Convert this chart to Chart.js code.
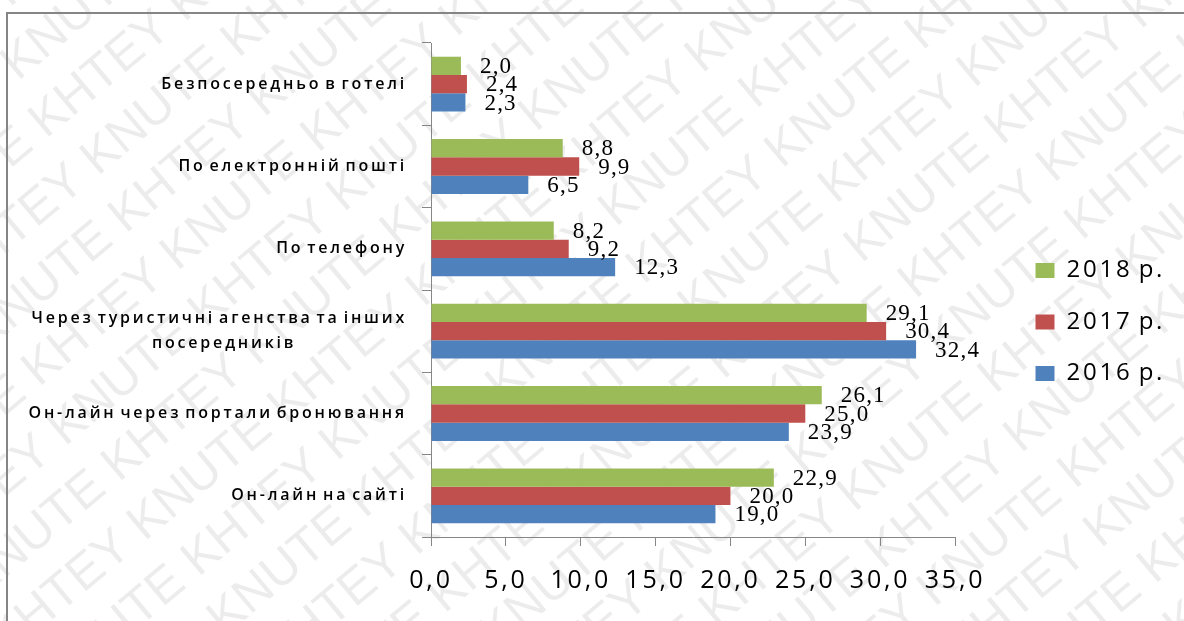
<!DOCTYPE html>
<html lang="uk">
<head>
<meta charset="utf-8">
<title>Способи бронювання</title>
<script src="https://cdn.jsdelivr.net/npm/chart.js@4.4.1/dist/chart.umd.min.js"></script>
<style>
  html, body { margin: 0; padding: 0; background: #fff; }
  #wrap { position: relative; width: 1184px; height: 621px; overflow: hidden; }
  #frame { position: absolute; left: 6px; top: 12px; width: 1300px; height: 700px; border: 2px solid #858585; pointer-events: none; }
  canvas { position: absolute; left: 0; top: 0; }
</style>
</head>
<body>
<div id="wrap">
  <canvas id="chart" width="1184" height="621"></canvas>
  <div id="frame"></div>
</div>
<script>
const categories = [
  "Безпосередньо в готелі",
  "По електронній пошті",
  "По телефону",
  ["Через туристичні агенства та інших", "посередників" + " ".repeat(28)],
  "Он-лайн через портали бронювання",
  "Он-лайн на сайті"
];
const seriesNames = ["2018 р.", "2017 р.", "2016 р."];
const values2018 = [2.0, 8.8, 8.2, 29.1, 26.1, 22.9];
const values2017 = [2.4, 9.9, 9.2, 30.4, 25.0, 20.0];
const values2016 = [2.3, 6.5, 12.3, 32.4, 23.9, 19.0];
const xMin = 0;
const xMax = 35;
const xStep = 5;

const colors = ["#9bbb59", "#c0504d", "#4f81bd"];

function fmt(v) {
  return Number(v).toFixed(1).replace(".", ",");
}

const watermark = {
  id: "watermark",
  beforeDraw(chart) {
    const ctx = chart.ctx;
    ctx.save();
    ctx.letterSpacing = "0px";
    ctx.wordSpacing = "0px";
    ctx.fillStyle = "rgba(0,0,0,0.075)";
    ctx.font = '50px "Liberation Sans"';
    ctx.textBaseline = "middle";
    ctx.translate(chart.width / 2, chart.height / 2);
    ctx.rotate(-40 * Math.PI / 180);
    const row = "KHTEY KNUTE ".repeat(14);
    for (let r = -14; r <= 14; r++) {
      const shift = (r % 2 === 0) ? 0 : -165;
      ctx.fillText(row, -1400 + shift, r * 62);
    }
    ctx.restore();
    ctx.letterSpacing = "2.8px";
    ctx.wordSpacing = "-3px";
  }
};

const valueLabels = {
  id: "valueLabels",
  afterDatasetsDraw(chart) {
    const ctx = chart.ctx;
    ctx.save();
    ctx.letterSpacing = "1.2px";
    ctx.wordSpacing = "0px";
    ctx.font = '23px "Liberation Serif"';
    ctx.fillStyle = "#000";
    ctx.textAlign = "left";
    ctx.textBaseline = "middle";
    chart.data.datasets.forEach((ds, i) => {
      chart.getDatasetMeta(i).data.forEach((bar, j) => {
        ctx.fillText(fmt(ds.data[j]), bar.x + 19, bar.y + 1);
      });
    });
    ctx.restore();
  }
};

// move the legend box off the plot, and widen it so the spaced text is not clipped
const legendShift = {
  id: "legendShift",
  afterLayout(chart) {
    const lg = chart.legend;
    lg.left = 1008;
    lg.right = chart.width;
    lg.width = lg.right - lg.left;
  }
};

new Chart(document.getElementById("chart"), {
  type: "bar",
  data: {
    labels: categories,
    datasets: [
      { label: seriesNames[0], data: values2018, backgroundColor: colors[0] },
      { label: seriesNames[1], data: values2017, backgroundColor: colors[1] },
      { label: seriesNames[2], data: values2016, backgroundColor: colors[2] }
    ]
  },
  options: {
    indexAxis: "y",
    responsive: false,
    animation: false,
    devicePixelRatio: 1,
    categoryPercentage: 0.667,
    barPercentage: 1.0,
    layout: {
      padding: { top: 43, bottom: 20, left: 0, right: 0 }
    },
    scales: {
      x: {
        min: xMin,
        max: xMax,
        afterFit(s) {
          s.height = 64;
          s.paddingRight = 229;
        },
        border: { display: true, color: "#868686", width: 1 },
        grid: { drawOnChartArea: false, drawTicks: true, tickLength: 9, color: "#868686" },
        ticks: {
          stepSize: xStep,
          padding: 20,
          color: "#000",
          font: { family: "Open Sans", size: 25 },
          callback: (v) => fmt(v)
        }
      },
      y: {
        afterFit(s) {
          s.width = 431;
        },
        border: { display: true, color: "#868686", width: 1 },
        grid: { drawOnChartArea: false, drawTicks: true, tickLength: 9, color: "#868686" },
        ticks: {
          padding: 15,
          color: "#000",
          font: { family: "Open Sans", size: 16, weight: "600", lineHeight: 1.55 }
        }
      }
    },
    plugins: {
      tooltip: { enabled: false },
      legend: {
        position: "right",
        align: "center",
        labels: {
          boxWidth: 19,
          boxHeight: 15,
          padding: 27.5,
          color: "#000",
          font: { family: "Open Sans", size: 24 }
        }
      }
    }
  },
  plugins: [watermark, valueLabels, legendShift]
});
</script>
</body>
</html>
